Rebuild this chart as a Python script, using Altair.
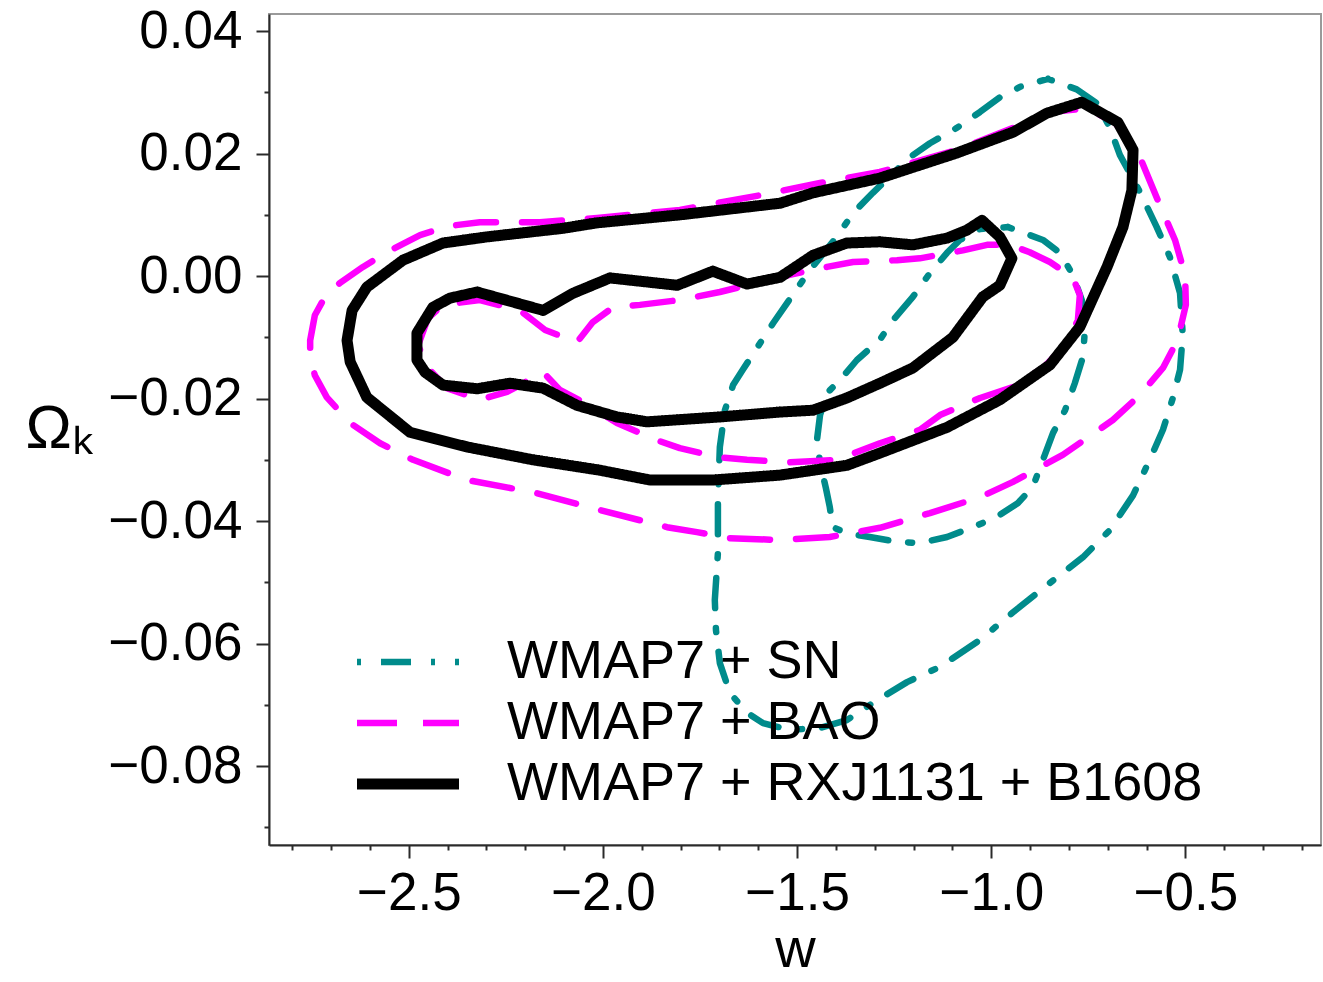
import altair as alt
import pandas as pd

SERIES = ["WMAP7 + SN", "WMAP7 + BAO", "WMAP7 + RXJ1131 + B1608"]
COLORS = ["#008b8b", "#ff00ff", "#000000"]

# WMAP7 + SN, outer (95%) contour
SN_OUT_W = [-0.854, -0.780, -0.728, -0.695, -0.669, -0.617, -0.574, -0.540, -0.514, -0.507,
            -0.514, -0.532, -0.558, -0.592, -0.635, -0.695, -0.764, -0.849, -0.944, -1.029,
            -1.132, -1.217, -1.305, -1.372, -1.441, -1.519, -1.588, -1.629, -1.673, -1.699,
            -1.709, -1.712, -1.704, -1.704, -1.699, -1.686, -1.665, -1.640, -1.562, -1.526,
            -1.467, -1.398, -1.356, -1.305, -1.210, -1.158, -1.089, -1.029, -0.978, -0.926]
SN_OUT_OK = [0.0322, 0.0305, 0.0282, 0.0243, 0.0198, 0.0137, 0.0080, 0.0031, -0.0028, -0.0096,
             -0.0153, -0.0198, -0.0251, -0.0300, -0.0358, -0.0415, -0.0459, -0.0501, -0.0549, -0.0594,
             -0.0638, -0.0663, -0.0697, -0.0725, -0.0738, -0.0741, -0.0730, -0.0713, -0.0681, -0.0632,
             -0.0578, -0.0529, -0.0452, -0.0366, -0.0279, -0.0219, -0.0178, -0.0153, -0.0077, -0.0044,
             0.0010, 0.0064, 0.0103, 0.0136, 0.0194, 0.0217, 0.0242, 0.0268, 0.0292, 0.0309]

# WMAP7 + SN, inner (68%) contour
SN_IN_W = [-0.957, -0.867, -0.823, -0.790, -0.767, -0.759, -0.764, -0.785, -0.810, -0.841,
           -0.867, -0.893, -0.932, -0.986, -1.047, -1.114, -1.184, -1.243, -1.313, -1.372,
           -1.408, -1.416, -1.426, -1.441, -1.449, -1.441, -1.423, -1.390, -1.346, -1.287,
           -1.253, -1.202, -1.158, -1.114, -1.081, -1.029]
SN_IN_OK = [0.0080, 0.0059, 0.0038, 0.0002, -0.0039, -0.0088, -0.0132, -0.0175, -0.0219, -0.0256,
            -0.0300, -0.0344, -0.0371, -0.0393, -0.0410, -0.0426, -0.0436, -0.0434, -0.0426, -0.0420,
            -0.0410, -0.0377, -0.0346, -0.0305, -0.0268, -0.0227, -0.0191, -0.0170, -0.0137, -0.0104,
            -0.0072, -0.0034, 0.0005, 0.0038, 0.0059, 0.0077]

# WMAP7 + BAO, outer contour
BAO_OUT_W = [-2.754, -2.742, -2.716, -2.677, -2.618, -2.548, -2.471, -2.394, -2.317, -2.162,
             -2.015, -1.802, -1.596, -1.441, -1.287, -1.089, -0.944, -0.849, -0.754, -0.682,
             -0.625, -0.566, -0.527, -0.501, -0.499, -0.520, -0.558, -0.617, -0.687, -0.816,
             -0.944, -1.029, -1.158, -1.287, -1.416, -1.544, -1.673, -1.758, -1.835, -2.008,
             -2.180, -2.350, -2.489, -2.574, -2.651, -2.711, -2.742, -2.754]
BAO_OUT_OK = [-0.0105, -0.0064, -0.0034, -0.0011, 0.0015, 0.0042, 0.0067, 0.0082, 0.0088, 0.0088,
              0.0095, 0.0108, 0.0132, 0.0152, 0.0170, 0.0206, 0.0242, 0.0268, 0.0274, 0.0251,
              0.0206, 0.0116, 0.0059, 0.0002, -0.0047, -0.0104, -0.0150, -0.0194, -0.0235, -0.0292,
              -0.0336, -0.0361, -0.0387, -0.0411, -0.0426, -0.0431, -0.0428, -0.0418, -0.0410, -0.0382,
              -0.0353, -0.0333, -0.0300, -0.0273, -0.0240, -0.0198, -0.0162, -0.0129]

# WMAP7 + BAO, inner contour
BAO_IN_W = [-2.476, -2.451, -2.412, -2.317, -2.214, -2.149, -2.067, -2.026, -1.974, -1.905,
            -1.802, -1.699, -1.604, -1.519, -1.423, -1.356, -1.243, -1.184, -1.073, -1.011,
            -0.952, -0.901, -0.849, -0.790, -0.772, -0.777, -0.810, -0.867, -0.944, -1.029,
            -1.132, -1.184, -1.287, -1.398, -1.519, -1.629, -1.699, -1.802, -1.861, -1.964,
            -2.051, -2.111, -2.154, -2.214, -2.247, -2.317, -2.402, -2.451]
BAO_IN_OK = [-0.0113, -0.0069, -0.0047, -0.0039, -0.0056, -0.0088, -0.0108, -0.0075, -0.0051, -0.0047,
             -0.0039, -0.0026, -0.0011, 0.0002, 0.0015, 0.0023, 0.0026, 0.0029, 0.0042, 0.0051,
             0.0051, 0.0039, 0.0023, -0.0002, -0.0031, -0.0072, -0.0113, -0.0150, -0.0181, -0.0199,
             -0.0227, -0.0251, -0.0273, -0.0300, -0.0304, -0.0300, -0.0296, -0.0281, -0.0268, -0.0240,
             -0.0206, -0.0186, -0.0157, -0.0178, -0.0189, -0.0202, -0.0183, -0.0150]

# WMAP7 + RXJ1131 + B1608, outer contour
LENS_OUT_W = [-2.659, -2.646, -2.608, -2.515, -2.412, -2.299, -2.103, -2.015, -1.802, -1.544,
              -1.459, -1.287, -1.089, -0.944, -0.857, -0.767, -0.674, -0.635, -0.638, -0.661,
              -0.702, -0.772, -0.849, -0.978, -1.114, -1.287, -1.372, -1.544, -1.717, -1.879,
              -2.008, -2.180, -2.350, -2.497, -2.608, -2.651]
LENS_OUT_OK = [-0.0105, -0.0056, -0.0018, 0.0026, 0.0054, 0.0064, 0.0078, 0.0087, 0.0100, 0.0119,
               0.0136, 0.0160, 0.0201, 0.0235, 0.0266, 0.0284, 0.0251, 0.0206, 0.0140, 0.0080,
               0.0015, -0.0083, -0.0145, -0.0202, -0.0247, -0.0289, -0.0309, -0.0325, -0.0333, -0.0333,
               -0.0317, -0.0300, -0.0279, -0.0255, -0.0198, -0.0140]

# WMAP7 + RXJ1131 + B1608, inner contour
LENS_IN_W = [-2.479, -2.479, -2.438, -2.394, -2.324, -2.154, -2.077, -1.982, -1.809, -1.717,
             -1.629, -1.544, -1.459, -1.372, -1.287, -1.202, -1.114, -1.063, -1.024, -0.978,
             -0.947, -0.978, -1.022, -1.099, -1.202, -1.287, -1.372, -1.459, -1.544, -1.699,
             -1.887, -1.964, -2.067, -2.154, -2.239, -2.324, -2.412, -2.458, -2.479]
LENS_IN_OK = [-0.0116, -0.0093, -0.0051, -0.0036, -0.0026, -0.0056, -0.0028, -0.0003, -0.0015, 0.0008,
              -0.0013, -0.0002, 0.0034, 0.0054, 0.0056, 0.0051, 0.0062, 0.0075, 0.0091, 0.0064,
              0.0029, -0.0015, -0.0034, -0.0100, -0.0150, -0.0175, -0.0199, -0.0219, -0.0222, -0.0230,
              -0.0238, -0.0230, -0.0211, -0.0183, -0.0175, -0.0184, -0.0178, -0.0157, -0.0137]

X_TICKS = [-2.8, -2.7, -2.6, -2.5, -2.4, -2.3, -2.2, -2.1, -2.0, -1.9, -1.8, -1.7, -1.6, -1.5,
           -1.4, -1.3, -1.2, -1.1, -1.0, -0.9, -0.8, -0.7, -0.6, -0.5, -0.4, -0.3, -0.2]
Y_TICKS = [-0.09, -0.08, -0.07, -0.06, -0.05, -0.04, -0.03, -0.02, -0.01, 0.0, 0.01, 0.02, 0.03, 0.04]

CONTOURS = [
    (SERIES[0], "outer", SN_OUT_W, SN_OUT_OK),
    (SERIES[0], "inner", SN_IN_W, SN_IN_OK),
    (SERIES[1], "outer", BAO_OUT_W, BAO_OUT_OK),
    (SERIES[1], "inner", BAO_IN_W, BAO_IN_OK),
    (SERIES[2], "outer", LENS_OUT_W, LENS_OUT_OK),
    (SERIES[2], "inner", LENS_IN_W, LENS_IN_OK),
]

rows = []
for series, level, ws, oks in CONTOURS:
    pts = list(zip(ws, oks)) + [(ws[0], oks[0])]
    for i, (w, ok) in enumerate(pts):
        rows.append({"series": series, "contour": series + " " + level, "idx": i, "w": w, "ok": ok})
df = pd.DataFrame(rows)

FONT = "Liberation Sans"

leg = alt.Legend(
    title=None, orient="none", legendX=112, legendY=621,
    symbolType="M-3,0L3,0", symbolSize=34 * 34,
    labelFont=FONT, labelFontSize=54, labelColor="#000000",
    labelOffset=72, labelLimit=0, rowPadding=7, padding=0,
)

x_major = "abs(datum.value*2 - round(datum.value*2)) < 0.001"
y_major = "abs(datum.value*50 - round(datum.value*50)) < 0.001"

chart = alt.Chart(df).mark_line(strokeCap="round", strokeJoin="round").encode(
    x=alt.X("w:Q",
            scale=alt.Scale(domain=[-2.86, -0.151], nice=False, zero=False),
            axis=alt.Axis(values=X_TICKS, title="w",
                          tickSize={"condition": {"test": x_major, "value": 13}, "value": 5},
                          labelExpr=f"{x_major} ? format(datum.value, '.1f') : ''",
                          labelPadding=9, labelFontSize=53,
                          titleFontSize=56, titleY=121, titleBaseline="alphabetic")),
    y=alt.Y("ok:Q",
            scale=alt.Scale(domain=[-0.0929, 0.0428], nice=False, zero=False),
            axis=alt.Axis(values=Y_TICKS, title="Ωₖ",
                          tickSize={"condition": {"test": y_major, "value": 13}, "value": 5},
                          labelExpr=f"{y_major} ? format(datum.value, '.2f') : ''",
                          labelPadding=14, labelFontSize=53,
                          titleAngle=0, titleAlign="left", titleX=-244, titleY=433,
                          titleBaseline="alphabetic", titleFontSize=62)),
    color=alt.Color("series:N", scale=alt.Scale(domain=SERIES, range=COLORS), legend=leg),
    strokeDash=alt.StrokeDash("series:N",
                              scale=alt.Scale(domain=SERIES, range=[[4, 20, 30, 20], [40, 26], [1, 0]]),
                              legend=leg),
    strokeWidth=alt.StrokeWidth("series:N",
                                scale=alt.Scale(type="ordinal", domain=SERIES, range=[6.5, 6.5, 11]),
                                legend=leg),
    detail="contour:N",
    order="idx:Q",
).properties(
    width=1052, height=831,
    autosize=alt.AutoSizeParams(type="none"),
    padding={"left": 269, "top": 14, "right": 2, "bottom": 137},
).configure_view(
    stroke="#9a9a9a", strokeWidth=2,
).configure_axis(
    grid=False, domainColor="#2a2a2a", domainWidth=2, tickColor="#2a2a2a", tickWidth=2,
    labelFont=FONT, labelColor="#000000", titleFont=FONT, titleColor="#000000",
    titleFontWeight="normal",
)

chart.save("out.html", embed_options={"renderer": "svg", "actions": False})
